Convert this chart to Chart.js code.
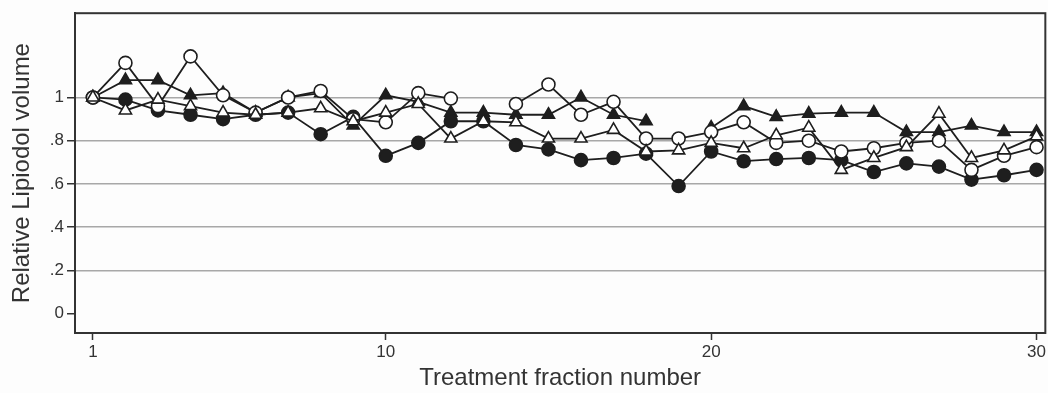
<!DOCTYPE html>
<html>
<head>
<meta charset="utf-8">
<script src="https://cdn.jsdelivr.net/npm/chart.js@4"></script>
<style>
	html, body { margin: 0; padding: 0; background: #fdfdfd; }
	#box { width: 1048px; height: 393px; }
</style>
</head>
<body>
<div id="box"><canvas id="myChart" width="1048" height="393"></canvas></div>
<script>
const fractions		= [ 1, 2, 3, 4, 5, 6, 7, 8, 9, 10, 11, 12, 13, 14, 15, 16, 17, 18, 19, 20, 21, 22, 23, 24, 25, 26, 27, 28, 29, 30 ];
const yTicks		= [ 0, 0.2, 0.4, 0.6, 0.8, 1 ];
const xTicks		= [ 1, 10, 20, 30 ];

// filled circles
const seriesA	= [ 1.0, .99, .94, .92, .90, .92, .93, .83, .91, .73, .79, .89, .89, .78, .76, .71, .72, .74, .59, .75, .705, .715, .72, .71, .655, .695, .68, .62, .64, .665 ];
// open circles
const seriesB	= [ 1.0, 1.16, .96, 1.19, 1.01, .93, 1.0, 1.03, .90, .885, 1.02, .995, null, .97, 1.06, .92, .98, .81, .81, .84, .885, .79, .80, .75, .765, .79, .80, .665, .73, .77 ];
// filled triangles
const seriesC	= [ 1.0, 1.08, 1.08, 1.01, 1.02, .93, 1.0, 1.02, .87, 1.01, .98, .93, .93, .92, .92, 1.0, .92, .89, null, .86, .96, .91, .925, .93, .93, .84, .84, .87, .84, .84 ];
// open triangles
const seriesD	= [ 1.0, .94, .99, .96, .93, .92, .93, .95, .89, .93, .97, .81, .89, .885, .81, .81, .85, .75, .755, .79, .765, .825, .86, .665, .72, .77, .925, .72, .755, .82 ];

const INK	= '#1e1e1e';
const FONT	= 'Liberation Sans, Arial, sans-serif';

function toPoints( ys ) {
	return fractions.map( ( x, i ) => ( { x: x, y: ys[ i ] } ) );
}

function makeSet( label, ys, style, filled, r ) {
	return {
		label: label,
		data: toPoints( ys ),
		borderColor: INK,
		borderWidth: 1.8,
		pointStyle: style,
		pointRadius: r,
		pointBorderWidth: 1.6,
		pointBorderColor: INK,
		pointBackgroundColor: filled ? INK : '#fff',
		spanGaps: false,
		tension: 0
	};
}

// box round the plot area
const frame = {
	id: 'frame',
	afterDraw( chart ) {
		const a		= chart.chartArea;
		const ctx	= chart.ctx;
		ctx.save();
		ctx.strokeStyle	= '#333';
		ctx.lineWidth	= 2;
		ctx.strokeRect( a.left, a.top, a.right - a.left, a.bottom - a.top );
		ctx.restore();
	}
};

new Chart( document.getElementById( 'myChart' ), {
	type: 'line',
	data: {
		datasets: [
			makeSet( 'open triangles', seriesD, 'triangle', false, 7 ),
			makeSet( 'open circles', seriesB, 'circle', false, 6.5 ),
			makeSet( 'filled circles', seriesA, 'circle', true, 6.5 ),
			makeSet( 'filled triangles', seriesC, 'triangle', true, 7 )
		]
	},
	options: {
		responsive: false,
		animation: false,
		layout: { autoPadding: false, padding: { top: 12, right: 0, left: 0, bottom: 0 } },
		plugins: {
			legend: { display: false },
			tooltip: { enabled: false }
		},
		scales: {
			x: {
				type: 'linear',
				min: 0.45,
				max: 30.27,
				afterBuildTicks: s => { s.ticks = xTicks.map( v => ( { value: v } ) ); },
				afterFit: s => { s.height = 60; },
				grid: {
					drawOnChartArea: false,
					drawTicks: true,
					tickLength: 7,
					tickColor: '#333',
					tickWidth: 1.5
				},
				border: { color: '#333', width: 2 },
				ticks: {
					color: '#333',
					font: { family: FONT, size: 17 },
					padding: 2,
					maxRotation: 0,
					callback: v => String( v )
				},
				title: {
					display: true,
					text: 'Treatment fraction number',
					color: '#333',
					font: { family: FONT, size: 24 },
					padding: { top: 0, bottom: 0 }
				}
			},
			y: {
				min: -0.09,
				max: 1.39,
				afterBuildTicks: s => { s.ticks = yTicks.map( v => ( { value: v } ) ); },
				afterFit: s => { s.width = 75; },
				grid: {
					color: c => ( c.tick && c.tick.value > 0 ) ? '#a8a8a8' : 'rgba(0,0,0,0)',
					lineWidth: 1.5,
					drawTicks: true,
					tickLength: 8,
					tickColor: '#333',
					tickWidth: 1.5
				},
				border: { color: '#333', width: 2 },
				ticks: {
					color: '#333',
					font: { family: FONT, size: 17 },
					padding: 3,
					callback: v => v === 0 ? '0' : v === 1 ? '1' : String( Math.round( v * 10 ) / 10 ).replace( /^0/, '' )
				},
				title: {
					display: true,
					text: 'Relative Lipiodol volume',
					color: '#333',
					font: { family: FONT, size: 24 },
					padding: { top: 8, bottom: 0 }
				}
			}
		}
	},
	plugins: [ frame ]
} );
</script>
</body>
</html>
